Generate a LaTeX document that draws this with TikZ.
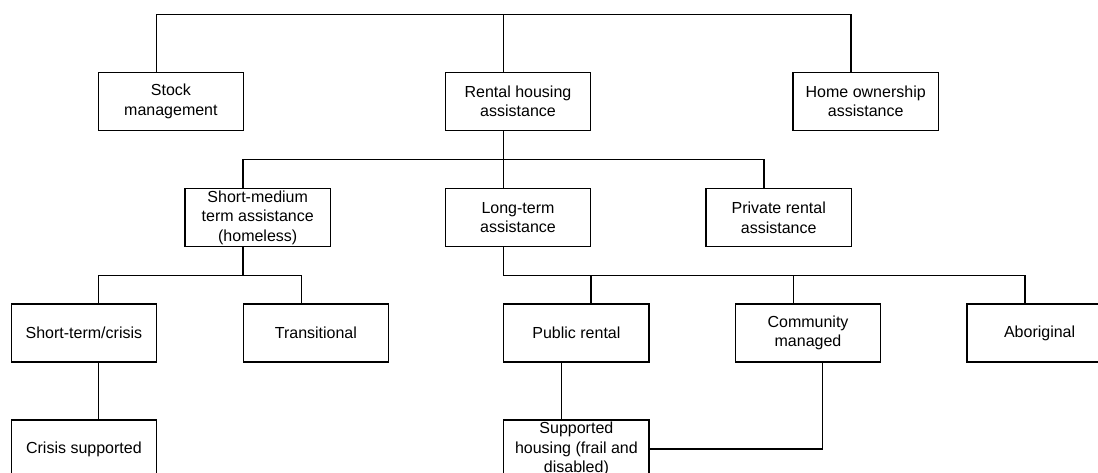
\documentclass[tikz,border=0pt]{standalone}
\usepackage{fontspec}
\setmainfont{Liberation Sans}
\usetikzlibrary{calc}
\begin{document}
\begin{tikzpicture}[x=0.75pt,y=-0.75pt,
  box/.style={draw=black,line width=0.9pt,fill=white,minimum width=109pt,minimum height=43.5pt,
    inner sep=0pt,align=center,font=\fontsize{12}{14.4}\selectfont},
  link/.style={draw=black,line width=0.9pt}]
\useasboundingbox (0,0) rectangle (1098,473);
\clip (0,0) rectangle (1098,473);
% boxes (centres in pixel coordinates)
\node[box] (stock) at (170.9,101.3) {Stock\\management};
\node[box] (rental) at (518,101.3) {Rental housing\\assistance};
\node[box] (home) at (865.7,101.3) {Home ownership\\assistance};
\node[box] (shortmed) at (257.7,217.7) {Short-medium\\term assistance\\(homeless)};
\node[box] (longterm) at (518,217.7) {Long-term\\assistance};
\node[box] (private) at (778.7,217.7) {Private rental\\assistance};
\node[box] (shortterm) at (83.9,333) {Short-term/crisis};
\node[box] (transit) at (315.9,333) {Transitional};
\node[box] (public) at (576.4,333) {Public rental};
\node[box] (community) at (808,333) {Community\\managed};
\node[box] (aboriginal) at (1039.6,333) {Aboriginal};
\node[box] (crisis) at (83.9,449) {Crisis supported};
\node[box] (supported) at (576.4,449) {Supported\\housing (frail and\\disabled)};
% bus levels
\coordinate (bus1) at (0,14.7);
\coordinate (bus2) at (0,159.3);
\coordinate (bus3) at (0,275.3);
% attachment points
\coordinate (stockN) at ($(stock.north west)!0.4!(stock.north east)$);
\coordinate (rentalN) at ($(rental.north west)!0.4!(rental.north east)$);
\coordinate (homeN) at ($(home.north west)!0.4!(home.north east)$);
\coordinate (rentalS) at ($(rental.south west)!0.4!(rental.south east)$);
\coordinate (shortmedN) at ($(shortmed.north west)!0.4!(shortmed.north east)$);
\coordinate (longtermN) at ($(longterm.north west)!0.4!(longterm.north east)$);
\coordinate (privateN) at ($(private.north west)!0.4!(private.north east)$);
\coordinate (shortmedS) at ($(shortmed.south west)!0.4!(shortmed.south east)$);
\coordinate (shorttermN) at ($(shortterm.north west)!0.6!(shortterm.north east)$);
\coordinate (transitN) at ($(transit.north west)!0.4!(transit.north east)$);
\coordinate (longtermS) at ($(longterm.south west)!0.4!(longterm.south east)$);
\coordinate (publicN) at ($(public.north west)!0.6!(public.north east)$);
\coordinate (communityN) at ($(community.north west)!0.4!(community.north east)$);
\coordinate (aboriginalN) at ($(aboriginal.north west)!0.4!(aboriginal.north east)$);
\coordinate (shorttermS) at ($(shortterm.south west)!0.6!(shortterm.south east)$);
\coordinate (crisisN) at ($(crisis.north west)!0.6!(crisis.north east)$);
\coordinate (publicS) at ($(public.south west)!0.4!(public.south east)$);
\coordinate (supportedN) at ($(supported.north west)!0.4!(supported.north east)$);
\coordinate (communityS) at ($(community.south west)!0.6!(community.south east)$);
% connectors
\draw[link] (stockN) -- (stockN |- bus1) -- (homeN |- bus1) -- (homeN);
\draw[link] (rentalN) -- (rentalN |- bus1);
\draw[link] (rentalS) -- (rentalS |- bus2);
\draw[link] (shortmedN) -- (shortmedN |- bus2) -- (privateN |- bus2) -- (privateN);
\draw[link] (longtermN) -- (longtermN |- bus2);
\draw[link] (shortmedS) -- (shortmedS |- bus3);
\draw[link] (shorttermN) -- (shorttermN |- bus3) -- (transitN |- bus3) -- (transitN);
\draw[link] (longtermS) -- (longtermS |- bus3) -- (aboriginalN |- bus3) -- (aboriginalN);
\draw[link] (publicN) -- (publicN |- bus3);
\draw[link] (communityN) -- (communityN |- bus3);
\draw[link] (shorttermS) -- (crisisN);
\draw[link] (publicS) -- (supportedN);
\draw[link] (communityS) |- (supported.east);
\end{tikzpicture}
\end{document}
